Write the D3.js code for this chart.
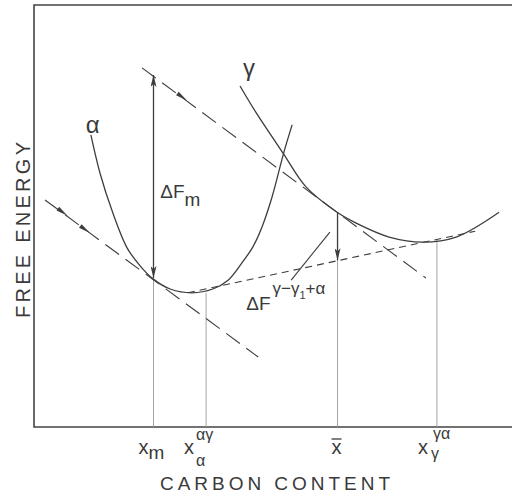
<!DOCTYPE html>
<html>
<head>
<meta charset="utf-8">
<script src="https://cdn.jsdelivr.net/npm/d3@7"></script>
<style>
	body { margin: 0; background: #fff; }
	text { font-family: "Liberation Sans", Arial, sans-serif; fill: #3a3a3a; }
</style>
</head>
<body>
<div id="chart"></div>
<script>
// Curve samples: [carbon content, free energy]
const alphaCurve = [
	[1.19, 6.92], [1.38, 6.02], [1.65, 5.07], [1.95, 4.24], [2.22, 3.82],
	[2.49, 3.51], [2.85, 3.27], [3.31, 3.18], [3.74, 3.27], [4.06, 3.48],
	[4.35, 3.89], [4.58, 4.27], [4.77, 4.74], [4.98, 5.45], [5.23, 6.52], [5.40, 7.16],
];
const gammaCurve = [
	[4.31, 8.08], [4.64, 7.46], [5.21, 6.49], [5.69, 5.69], [6.34, 5.09],
	[6.74, 4.83], [7.43, 4.50], [8.14, 4.38], [8.83, 4.50], [9.73, 5.09],
];

// Tangent lines, start and end points
const gammaTangent = [[2.26, 8.51], [8.20, 3.53]];
const alphaTangent = [[0.23, 5.38], [4.69, 1.66]];
const commonTangent = [[3.22, 3.18], [9.23, 4.64]];

// Small arrow marks sitting on the long dashed tangents
const tangentArrows = [[0.60, 5.09], [1.07, 4.68], [3.10, 7.82]];

// Compositions marked on the axis and where their guide lines stop
const compositions = [2.5, 3.6, 6.35, 8.43];
const compositionTops = [3.51, 3.18, 5.09, 4.45];

// Arrows: driving force for nucleation and for the whole reaction
const deltaFm = [[2.5, 3.53], [2.5, 8.34]];
const deltaFtotal = [[6.35, 5.09], [6.35, 3.95]];
const leader = [[5.38, 3.48], [6.19, 4.62]];

// Attribute
const width = 512;
const height = 495;
const margin = { top: 5, right: 0, bottom: 68, left: 34 };
const ink = '#3d3d3d';

const svg = d3.select('#chart').append('svg')
	.attr('width', width)
	.attr('height', height)
	.attr('viewBox', [0, 0, width, height]);

const x = d3.scaleLinear().domain([0, 10]).range([margin.left, width - margin.right]);
const y = d3.scaleLinear().domain([0, 10]).range([height - margin.bottom, margin.top]);

const line = d3.line().x((d) => x(d[0])).y((d) => y(d[1]));
const smooth = d3.line().x((d) => x(d[0])).y((d) => y(d[1])).curve(d3.curveCatmullRom.alpha(0.5));

// arrowhead marker
const defs = svg.append('defs');
defs.append('marker')
	.attr('id', 'head')
	.attr('viewBox', '0 0 12 6')
	.attr('refX', 12)
	.attr('refY', 3)
	.attr('markerWidth', 12)
	.attr('markerHeight', 6)
	.attr('markerUnits', 'userSpaceOnUse')
	.attr('orient', 'auto-start-reverse')
	.append('path')
	.attr('d', 'M0,0 L12,3 L0,6 L3,3 Z')
	.attr('fill', ink);

// Frame (open at the right)
svg.append('path')
	.attr('d', `M${x(10)},${y(10)} H${x(0)} V${y(0)} H${x(10)}`)
	.attr('fill', 'none')
	.attr('stroke', '#444')
	.attr('stroke-width', 1.6);

// Guide lines down to the axis
svg.append('g')
	.selectAll('line')
	.data(compositions)
	.join('line')
	.attr('x1', (d) => x(d))
	.attr('x2', (d) => x(d))
	.attr('y1', (d, i) => y(compositionTops[i]))
	.attr('y2', y(0))
	.attr('stroke', '#9a9a9a')
	.attr('stroke-width', 0.9);

// Tangents
svg.append('path').attr('d', line(gammaTangent))
	.attr('fill', 'none').attr('stroke', ink).attr('stroke-width', 1.1).attr('stroke-dasharray', '17,8');
svg.append('path').attr('d', line(alphaTangent))
	.attr('fill', 'none').attr('stroke', ink).attr('stroke-width', 1.1).attr('stroke-dasharray', '17,8');
svg.append('path').attr('d', line(commonTangent))
	.attr('fill', 'none').attr('stroke', ink).attr('stroke-width', 1.1).attr('stroke-dasharray', '7,5');

// little arrows along the tangents
const slope = Math.atan2(y(alphaTangent[1][1]) - y(alphaTangent[0][1]), x(alphaTangent[1][0]) - x(alphaTangent[0][0])) * 180 / Math.PI;
svg.append('g')
	.selectAll('path')
	.data(tangentArrows)
	.join('path')
	.attr('d', 'M-6,-2.2 L6,0 L-6,2.2 Z')
	.attr('transform', (d) => `translate(${x(d[0])},${y(d[1])}) rotate(${slope})`)
	.attr('fill', ink);

// Free energy curves
svg.append('path').attr('d', smooth(alphaCurve))
	.attr('fill', 'none').attr('stroke', ink).attr('stroke-width', 1.3);
svg.append('path').attr('d', smooth(gammaCurve))
	.attr('fill', 'none').attr('stroke', ink).attr('stroke-width', 1.3);

// Arrows
svg.append('path').attr('d', line(deltaFm))
	.attr('stroke', ink).attr('stroke-width', 1.3)
	.attr('marker-start', 'url(#head)').attr('marker-end', 'url(#head)');
svg.append('path').attr('d', line(deltaFtotal))
	.attr('stroke', ink).attr('stroke-width', 1.3)
	.attr('marker-end', 'url(#head)');
svg.append('path').attr('d', line(leader))
	.attr('stroke', ink).attr('stroke-width', 1.1);

// Curve labels
svg.append('text').attr('x', x(1.23)).attr('y', y(6.97))
	.attr('text-anchor', 'middle').attr('font-size', 24).text('α');
svg.append('text').attr('x', x(4.5)).attr('y', y(8.32))
	.attr('text-anchor', 'middle').attr('font-size', 24).text('γ');

// ΔFm
const dfm = svg.append('text').attr('x', x(2.64)).attr('y', y(5.43)).attr('font-size', 19);
dfm.append('tspan').text('ΔF');
dfm.append('tspan').attr('dy', 8).attr('font-size', 19).text('m');

// ΔF for the full reaction
const dft = svg.append('text').attr('x', x(4.44)).attr('y', y(2.77)).attr('font-size', 19);
dft.append('tspan').text('ΔF');
dft.append('tspan').attr('dy', -16).attr('dx', 2).attr('font-size', 17).text('γ−γ');
dft.append('tspan').attr('dy', 5).attr('font-size', 11).text('1');
dft.append('tspan').attr('dy', -5).attr('font-size', 17).text('+α');

// Axis marks
const marks = svg.append('g').attr('font-size', 20);
const by = y(0) + 27;
const xm = marks.append('text').attr('x', x(compositions[0]) - 15).attr('y', by);
xm.append('tspan').text('x');
xm.append('tspan').attr('dy', 5).attr('font-size', 19).text('m');

marks.append('text').attr('x', x(compositions[1]) - 22).attr('y', by).text('x');
marks.append('text').attr('x', x(compositions[1]) - 10).attr('y', by + 12).attr('font-size', 16).text('α');
marks.append('text').attr('x', x(compositions[1]) - 10).attr('y', by - 14).attr('font-size', 16).text('αγ');

marks.append('text').attr('x', x(compositions[2]) - 1).attr('y', by).attr('text-anchor', 'middle').text('x');
marks.append('line')
	.attr('x1', x(compositions[2]) - 6).attr('x2', x(compositions[2]) + 4)
	.attr('y1', by - 15).attr('y2', by - 15)
	.attr('stroke', ink).attr('stroke-width', 1.3);

marks.append('text').attr('x', x(compositions[3]) - 19).attr('y', by).text('x');
marks.append('text').attr('x', x(compositions[3]) - 6).attr('y', by + 5).attr('font-size', 16).text('γ');
marks.append('text').attr('x', x(compositions[3]) - 4).attr('y', by - 15).attr('font-size', 16).text('γα');

// Axis titles
svg.append('text')
	.attr('x', 160).attr('y', 490)
	.attr('font-size', 19)
	.attr('textLength', 230).attr('lengthAdjust', 'spacing')
	.text('CARBON CONTENT');
svg.append('text')
	.attr('transform', 'translate(30,318) rotate(-90)')
	.attr('font-size', 20)
	.attr('textLength', 176).attr('lengthAdjust', 'spacing')
	.text('FREE ENERGY');
</script>
</body>
</html>
